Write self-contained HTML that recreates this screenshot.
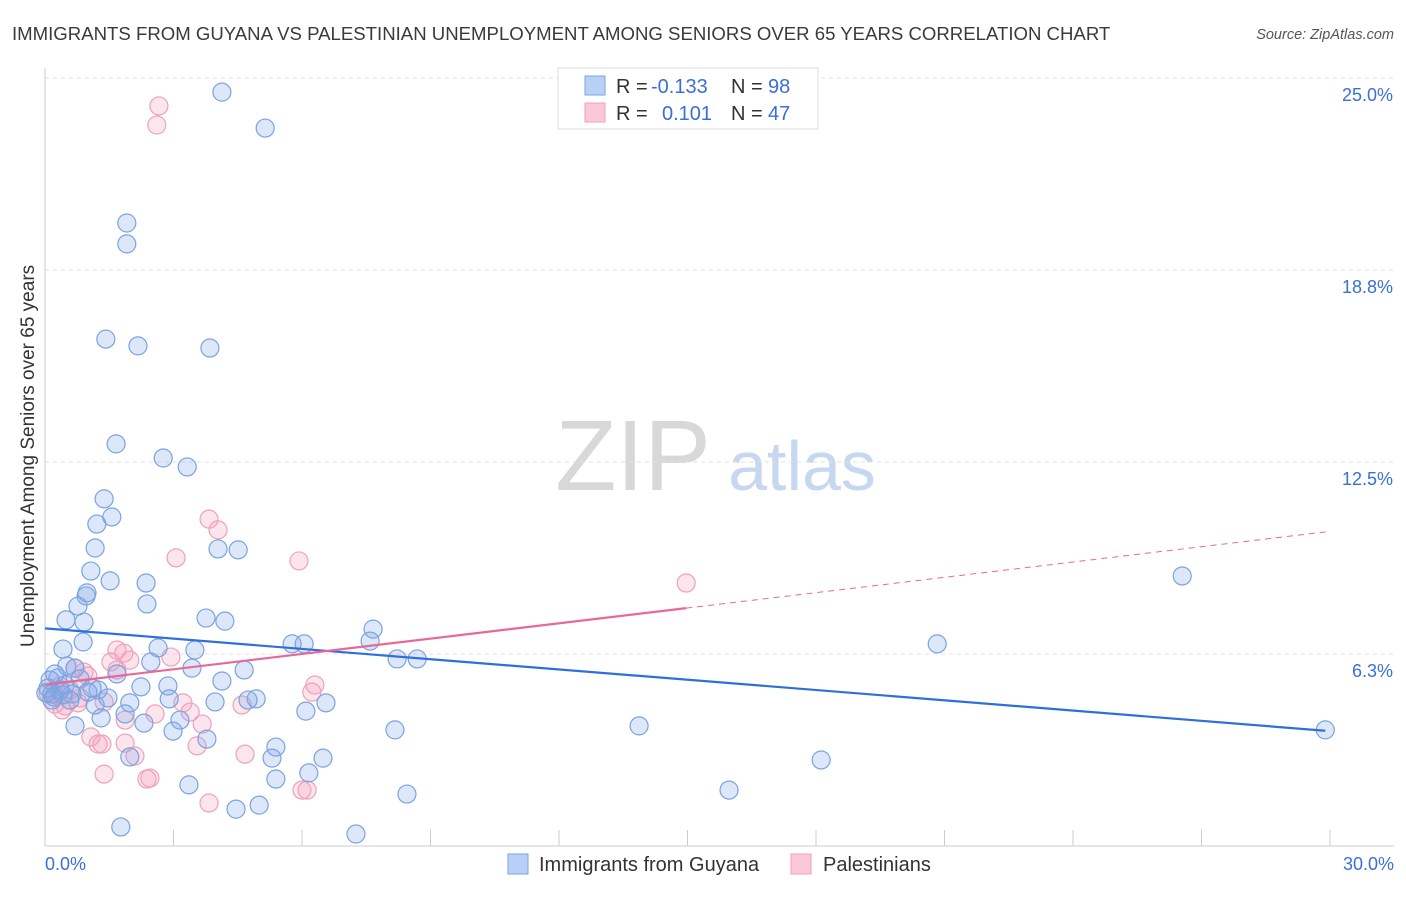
<!DOCTYPE html>
<html><head><meta charset="utf-8">
<style>
body{margin:0;background:#fff;font-family:"Liberation Sans",sans-serif;}
svg text{font-family:"Liberation Sans",sans-serif;}
</style></head>
<body>
<svg width="1406" height="892" xmlns="http://www.w3.org/2000/svg" id="chart">
<text x="12" y="40" font-size="18.6" fill="#3a3a3a">IMMIGRANTS FROM GUYANA VS PALESTINIAN UNEMPLOYMENT AMONG SENIORS OVER 65 YEARS CORRELATION CHART</text>
<text x="1394" y="39" font-size="14.5" fill="#555" font-style="italic" text-anchor="end">Source: ZipAtlas.com</text>
<g>
<text x="633" y="490" font-size="100" fill="#d8d8d8" font-family="Liberation Serif,serif" text-anchor="middle">ZIP</text>
<text x="802" y="490" font-size="70" fill="#c6d7f0" text-anchor="middle">atlas</text>
</g>
<g id="grid"></g>
<g id="axes"></g>
<g id="pts"></g>
<g id="lines"></g>
<text x="34" y="456" font-size="19" fill="#333" text-anchor="middle" transform="rotate(-90 34 456)">Unemployment Among Seniors over 65 years</text>
<g>
<rect x="558" y="68" width="260" height="61" fill="#fff" stroke="#ddd"/>
<g>
<rect x="585" y="76" width="20" height="19" fill="#b8d0f5" stroke="#7aa3e0"/>
<text x="616" y="93" font-size="20" fill="#333">R = </text>
<text x="651" y="93" font-size="20" fill="#3a6fd8">-0.133</text>
<text x="731" y="93" font-size="20" fill="#333">N = </text>
<text x="768" y="93" font-size="20" fill="#3a6fd8">98</text>
</g>
<g>
<rect x="585" y="103" width="20" height="19" fill="#fbc8d8" stroke="#f0a0bb"/>
<text x="616" y="120" font-size="20" fill="#333">R = </text>
<text x="662" y="120" font-size="20" fill="#3a6fd8">0.101</text>
<text x="731" y="120" font-size="20" fill="#333">N = </text>
<text x="768" y="120" font-size="20" fill="#3a6fd8">47</text>
</g>
</g>
<g>
<g>
<rect x="508" y="854" width="20" height="20" fill="#b8d0f5" stroke="#7aa3e0"/>
<text x="539" y="871" font-size="20" fill="#333">Immigrants from Guyana</text></g>
<g>
<rect x="791" y="854" width="20" height="20" fill="#fbc8d8" stroke="#f0a0bb"/>
<text x="823" y="871" font-size="20" fill="#333">Palestinians</text></g>
</g>
</svg>
<script>
const yTicks=[6.25,12.5,18.75,25];
const yTickLabels=["6.3%","12.5%","18.8%","25.0%"];
const xMin=0,xMax=30,yMin=0,yMax=25;
const guyanaX=[4.13,5.14,1.91,1.91,1.42,2.17,3.85,1.66,2.76,3.32,1.38,1.56,1.21,1.17,4.04,4.51,1.07,1.52,2.36,0.98,0.96,2.38,0.77,3.76,4.20,0.49,0.91,7.66,0.89,5.77,6.05,20.83,7.59,0.42,2.64,3.50,8.22,8.69,2.47,0.51,0.70,3.43,4.65,0.23,1.68,0.30,0.82,4.13,2.87,2.24,0.07,1.10,1.24,1.00,0.16,0.63,0.42,0.21,2.90,1.47,4.93,4.74,3.97,6.56,1.98,6.09,1.87,3.15,1.31,2.31,0.70,8.17,13.87,2.99,3.78,5.39,5.30,6.49,1.98,18.12,6.16,5.39,3.36,8.45,15.97,5.00,4.46,1.77,7.26,26.55,29.89,0.16,0.35,0.58,1.17,0.02,0.12,0.47];
const guyanaY=[24.54,23.37,20.28,19.60,16.50,16.28,16.21,13.09,12.63,12.34,11.30,10.71,10.48,9.70,9.67,9.64,8.95,8.63,8.56,8.24,8.14,7.88,7.81,7.42,7.32,7.36,7.29,7.06,6.64,6.58,6.58,6.58,6.67,6.41,6.45,6.38,6.09,6.09,5.99,5.86,5.79,5.79,5.73,5.60,5.60,5.47,5.44,5.37,5.21,5.18,5.14,5.14,5.08,5.01,4.95,4.95,4.92,4.85,4.79,4.82,4.79,4.75,4.69,4.66,4.66,4.39,4.30,4.10,4.17,4.00,3.91,3.78,3.91,3.74,3.48,3.22,2.86,2.86,2.90,2.80,2.38,2.18,1.99,1.69,1.82,1.33,1.20,0.62,0.39,8.79,3.78,4.75,5.08,4.75,4.59,4.98,5.40,5.24];
const palX=[2.66,2.61,3.83,4.04,3.06,5.93,14.97,1.68,1.84,2.94,1.98,1.54,0.70,0.91,1.00,1.68,6.30,6.23,0.35,0.07,0.23,0.47,0.77,1.38,3.22,3.39,4.60,2.57,1.87,3.67,1.07,1.24,1.87,1.33,3.55,2.10,4.67,1.38,2.38,2.45,6.00,6.12,3.83,0.23,0.58,0.82,0.40];
const palY=[24.09,23.47,10.64,10.29,9.38,9.28,8.56,6.38,6.28,6.15,6.05,5.99,5.79,5.66,5.53,5.73,5.24,5.01,5.21,4.98,4.62,4.56,4.66,4.69,4.66,4.36,4.59,4.30,4.10,3.97,3.55,3.32,3.35,3.32,3.26,2.93,2.99,2.34,2.18,2.21,1.82,1.82,1.40,4.92,5.08,4.82,4.43];
const NS="http://www.w3.org/2000/svg";
const L=45,R=1330,T=78,B=846;
const sx=v=>L+(v-xMin)/(xMax-xMin)*(R-L);
const sy=v=>B-(v-yMin)/(yMax-yMin)*(B-T);
function mk(tag,attrs,parent){const e=document.createElementNS(NS,tag);for(const k in attrs)e.setAttribute(k,attrs[k]);parent.appendChild(e);return e;}
const grid=document.getElementById('grid'),axes=document.getElementById('axes'),pts=document.getElementById('pts'),lines=document.getElementById('lines');
yTicks.forEach((t,i)=>{
  const g=mk('line',{x1:L,x2:1394,y1:sy(t),y2:sy(t),stroke:'#e2e2e2','stroke-dasharray':'4,4'},grid);
  
  
  const tx=mk('text',{x:1393,y:sy(t)+23,'font-size':18,fill:'#3a6fd8','text-anchor':'end'},axes);
  tx.textContent=yTickLabels[i];
  
  
});
const al=mk('line',{x1:L,x2:L,y1:68,y2:B,stroke:'#ccc'},axes);


const bl=mk('line',{x1:L,x2:1394,y1:B,y2:B,stroke:'#ccc'},axes);


for(let i=0;i<=10;i++){
  const v=xMin+i*(xMax-xMin)/10;
  const tk=mk('line',{x1:sx(v),x2:sx(v),y1:830,y2:B,stroke:'#ccc'},axes);
  
  
}
const xl0=mk('text',{x:45,y:870,'font-size':18,fill:'#3a6fd8'},axes);xl0.textContent=xMin.toFixed(1)+'%';


const xl1=mk('text',{x:1394,y:870,'font-size':18,fill:'#3a6fd8','text-anchor':'end'},axes);xl1.textContent=xMax.toFixed(1)+'%';


function dots(xs,ys,fill,stroke,name){
  xs.forEach((x,i)=>{
    const c=mk('circle',{cx:sx(x),cy:sy(ys[i]),r:9,fill:fill,stroke:stroke,'stroke-width':1.2},pts);
    
    
  });
}
dots(palX,palY,'rgba(244,160,190,0.28)','#f0a0bb','point-palestinians');
dots(guyanaX,guyanaY,'rgba(130,170,235,0.28)','#7aa3e0','point-guyana');
function fit(xs,ys){const n=xs.length;let mx=0,my=0;xs.forEach((x,i)=>{mx+=x;my+=ys[i];});mx/=n;my/=n;let sxy=0,sxx=0;xs.forEach((x,i)=>{sxy+=(x-mx)*(ys[i]-my);sxx+=(x-mx)*(x-mx);});const b=sxy/sxx;return [my-b*mx,b];}
const [ga,gb]=fit(guyanaX,guyanaY);
const gl=mk('line',{x1:sx(0),y1:sy(ga),x2:sx(Math.max(...guyanaX)),y2:sy(ga+gb*Math.max(...guyanaX)),stroke:'#2f6fdc','stroke-width':2.2},lines);


const [pa,pb]=fit(palX,palY);
const pm=Math.max(...palX);
const pl=mk('line',{x1:sx(0),y1:sy(pa),x2:sx(pm),y2:sy(pa+pb*pm),stroke:'#e8689a','stroke-width':2.2},lines);


const pd=mk('line',{x1:sx(pm),y1:sy(pa+pb*pm),x2:sx(xMax),y2:sy(pa+pb*xMax),stroke:'#e8689a','stroke-width':1,'stroke-dasharray':'6,5'},lines);


</script>
</body></html>
